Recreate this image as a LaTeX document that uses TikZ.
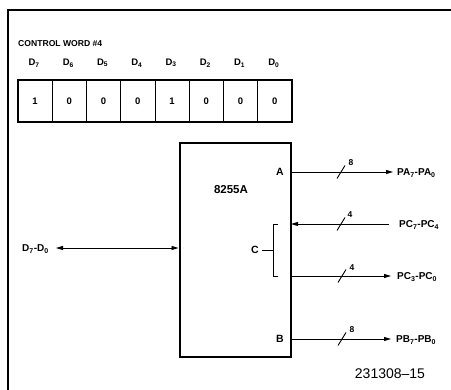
\documentclass[tikz,border=0pt]{standalone}
\usepackage{fontspec}
\setmainfont{Liberation Sans}
\usetikzlibrary{arrows.meta}
\begin{document}
\begin{tikzpicture}[x=1pt,y=-1pt,
  lbl/.style={font=\bfseries\fontsize{10}{11}\selectfont, inner sep=0pt},
  cell/.style={draw, line width=0.6pt, minimum width=34.25pt, minimum height=42pt, inner sep=0pt, font=\bfseries\fontsize{9.5}{10}\selectfont},
  conn/.style={line width=0.9pt},
  arr/.style={conn, -{Triangle[length=7pt,width=4pt]}},
  darr/.style={conn, {Triangle[length=7pt,width=4pt]}-{Triangle[length=7pt,width=4pt]}},
  slashln/.style={line width=0.9pt},
  cnt/.style={font=\bfseries\fontsize{8.5}{9}\selectfont, inner sep=0pt},
  port/.style={font=\bfseries\fontsize{10.5}{11}\selectfont, inner sep=0pt}
]
\useasboundingbox (0,0) rectangle (451,390);
% frame
\coordinate (fbl) at (8,390);
\coordinate (ftl) at (8,10);
\coordinate (ftr) at (451,10);
\draw[line width=1.5pt] (fbl) -- (ftl) -- (ftr);

% control word
\node[lbl, anchor=west, font=\bfseries\fontsize{8.6}{9}\selectfont] (title) at (18,44) {CONTROL WORD \#4};
\foreach \v [count=\i from 0] in {1,0,0,0,1,0,0,0} {
  \pgfmathtruncatemacro{\bit}{7-\i}
  \node[cell] (cell\i) at ({18+34.25*(\i+0.5)},101) {\v};
  \node[lbl, font=\bfseries\fontsize{9.5}{10}\selectfont] (dl\i) at ({18+34.25*(\i+0.5)-1},63) {D\textsubscript{\bit}};
}
\draw[line width=2.2pt] (cell0.north west) rectangle (cell7.south east);

% chip
\node[draw, line width=2pt, minimum width=111pt, minimum height=214pt, inner sep=0pt] (chip) at (235.5,250) {};
\node[lbl, font=\bfseries\fontsize{11.5}{12}\selectfont] (name) at (231,190) {8255A};
\node[port] (pA) at (280,172) {A};
\node[port] (pB) at (280,339) {B};
\node[port] (pC) at (255,250) {C};

% port coordinates on chip edge
\coordinate (eA) at (chip.east |- pA);
\coordinate (eB) at (chip.east |- pB);
\coordinate (eC1) at (291,224);
\coordinate (eC2) at (291,276);

% external labels
\node[lbl, anchor=west] (PA) at (397,173) {PA\textsubscript{7}-PA\textsubscript{0}};
\node[lbl, anchor=west] (PCh) at (399,225) {PC\textsubscript{7}-PC\textsubscript{4}};
\node[lbl, anchor=west] (PCl) at (397,277) {PC\textsubscript{3}-PC\textsubscript{0}};
\node[lbl, anchor=west] (PB) at (396,340) {PB\textsubscript{7}-PB\textsubscript{0}};
\node[lbl, anchor=west] (DD) at (22,249) {D\textsubscript{7}-D\textsubscript{0}};

% connectors
\draw[arr, shorten >=4pt] (eA) -- (PA.west |- eA);
\draw[arr, shorten <=10pt] (PCh.west |- eC1) -- (eC1);
\draw[arr, shorten >=6pt] (eC2) -- (PCl.west |- eC2);
\draw[arr, shorten >=5pt] (eB) -- (PB.west |- eB);
\coordinate (dL) at (56,248);
\draw[darr, shorten >=0.5pt] (dL) -- (chip.west |- dL);

% bus slashes
\foreach \n/\sx/\sy in {sA/341/172, sC1/341/224, sC2/342/276, sB/342/339} {
  \coordinate (\n) at (\sx,\sy);
  \draw[slashln] ([shift={(-4,6.5)}]\n) -- ([shift={(4,-6.5)}]\n);
}
\node[cnt] (nA) at (351,163) {8};
\node[cnt] (nC1) at (350,215) {4};
\node[cnt] (nC2) at (352,268) {4};
\node[cnt] (nB) at (352,330) {8};

% bracket for C
\coordinate (bt) at (278,224);
\coordinate (bb) at (278,276);
\coordinate (bm) at (273,250);
\draw[line width=0.8pt] (bt) -- (bt -| bm) -- (bb -| bm) -- (bb);
\draw[line width=0.8pt] (pC.east) ++(3,0) coordinate (cdash) -- (bm);

% figure number
\node[inner sep=0pt, font=\fontsize{14}{16}\selectfont] (fig) at (390,374) {231308--15};
\end{tikzpicture}
\end{document}
